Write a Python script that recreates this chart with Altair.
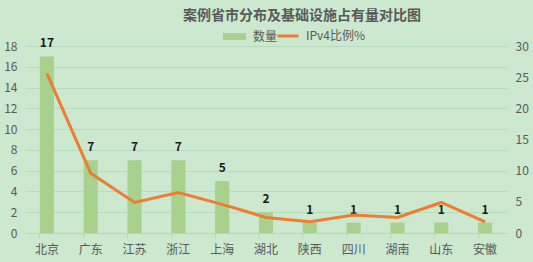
import altair as alt
import pandas as pd

provinces = ["北京", "广东", "江苏", "浙江", "上海", "湖北", "陕西", "四川", "湖南", "山东", "安徽"]
counts = [17, 7, 7, 7, 5, 2, 1, 1, 1, 1, 1]
ipv4_pct = [25.6, 9.6, 4.9, 6.5, 4.6, 2.5, 1.8, 2.9, 2.5, 4.9, 1.8]
left_ticks = [0, 2, 4, 6, 8, 10, 12, 14, 16, 18]
right_ticks = [0, 5, 10, 15, 20, 25, 30]

df = pd.DataFrame({
    "省市": provinces,
    "数量": counts,
    "IPv4": ipv4_pct,
    "s1": ["数量"] * len(provinces),
    "s2": ["IPv4比例%"] * len(provinces),
})

FONT = "Noto Sans CJK SC"
GRAY = "#595959"

xenc = alt.X(
    "省市:N", sort=provinces,
    scale=alt.Scale(paddingInner=0.68, paddingOuter=0.34),
    axis=alt.Axis(title=None, labelAngle=0, labelFontSize=12, labelColor=GRAY,
                  labelFont=FONT, labelPadding=6, domainColor="#bcd3bf",
                  ticks=True, tickColor="#bcd3bf", tickSize=5, bandPosition=0,
                  grid=False),
)

base = alt.Chart(df)

bars = base.mark_bar(color="#a9d18e").encode(
    x=xenc,
    y=alt.Y("数量:Q", scale=alt.Scale(domain=[0, 18]),
            axis=alt.Axis(title=None, values=left_ticks, grid=True, gridColor="#b7dcbd",
                          domain=False, ticks=False, labelColor=GRAY, labelFontSize=12,
                          labelFont=FONT, labelPadding=8)),
    color=alt.Color("s1:N", scale=alt.Scale(range=["#a9d18e"]),
                    legend=alt.Legend(title=None, orient="none", legendX=197, legendY=-22,
                                      symbolType="M-1,-0.3H1V0.3H-1Z", symbolSize=529,
                                      symbolOpacity=1, labelFontSize=12, labelColor=GRAY,
                                      labelFont=FONT, labelOffset=6, padding=0)),
)

labels = base.mark_text(dy=-13, fontSize=12, fontWeight="bold", color="#1a1a1a", font=FONT).encode(
    x=xenc,
    y=alt.Y("数量:Q", scale=alt.Scale(domain=[0, 18]), axis=None),
    text="数量:Q",
)

line = base.mark_line(strokeWidth=3).encode(
    x=xenc,
    y=alt.Y("IPv4:Q", scale=alt.Scale(domain=[0, 30]),
            axis=alt.Axis(title=None, orient="right", values=right_ticks, grid=False,
                          domain=False, ticks=False, labelColor=GRAY, labelFontSize=12,
                          labelFont=FONT, labelPadding=8)),
    stroke=alt.Stroke("s2:N", scale=alt.Scale(range=["#ed7d31"]),
                      legend=alt.Legend(title=None, orient="none", legendX=251, legendY=-22,
                                        symbolType="stroke", symbolSize=441,
                                        symbolStrokeWidth=3, labelFontSize=12,
                                        labelColor=GRAY, labelFont=FONT, labelOffset=6,
                                        padding=0)),
)

chart = alt.layer(bars, labels, line).resolve_scale(
    y="independent", color="independent", stroke="independent"
).properties(
    width=482, height=187,
    background="#cce8cf",
    autosize=alt.AutoSizeParams(type="none"),
    padding={"left": 25, "top": 46, "right": 26, "bottom": 29},
    title=alt.TitleParams("案例省市分布及基础设施占有量对比图", anchor="middle", dx=36,
                          fontSize=14, fontWeight="bold", color=GRAY, font=FONT, offset=1),
).configure_view(stroke=None)

chart.save("out.html", embed_options={"renderer": "svg", "actions": False})
